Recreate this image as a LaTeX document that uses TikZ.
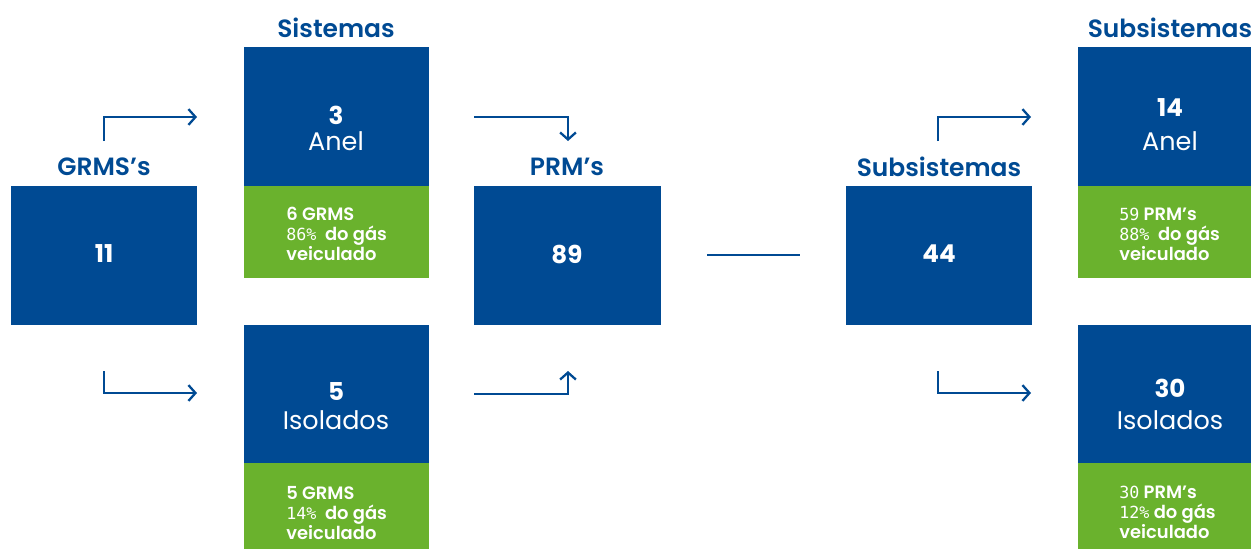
\documentclass[tikz,border=0pt]{standalone}
\usepackage{fontspec}
\setmainfont{Poppins}
\newfontfamily\semib{Poppins SemiBold}
\newfontfamily\boldf{Poppins Bold}
\newfontfamily\monof{DejaVu Sans Mono}
\usetikzlibrary{arrows.meta}
\definecolor{cblue}{RGB}{0,74,147}
\definecolor{cgreen}{RGB}{106,178,45}
\newcommand{\mono}[1]{{\monof\fontsize{9.5}{12}\selectfont #1}}
\tikzset{
  x=0.02cm, y=-0.02cm,
  bluebox/.style={fill=cblue, draw=none},
  greenbox/.style={fill=cgreen, draw=none},
  title/.style={text=cblue, font=\semib\fontsize{14.2}{15}\selectfont},
  bignum/.style={text=white, font=\boldf\fontsize{14}{15}\selectfont},
  word/.style={text=white, font=\fontsize{14.5}{15}\selectfont},
  small/.style={text=white, align=left, anchor=west, inner sep=0pt, font=\semib\fontsize{10.2}{11.3}\selectfont},
  conn/.style={draw=cblue, line width=1.3pt, -{Straight Barb[length=4pt,width=9pt,line width=1.3pt]}},
  plain/.style={draw=cblue, line width=1.3pt}
}
\begin{document}
\begin{tikzpicture}
\useasboundingbox (0,0) rectangle (1251,548);
% GRMS
\path[bluebox] (11,186) rectangle (197,325);
\node[title] (tGRMS) at (104,167) {GRMS’s};
\node[bignum] (nGRMS) at (104,254) {11};
% Sistemas top
\path[bluebox] (244,47) rectangle (429,186);
\path[greenbox] (244,186) rectangle (429,278);
\node[title] (tSist) at (336,28) {Sistemas};
\node[bignum] (n3) at (336,115) {3};
\node[word] (wAnel1) at (336,141) {Anel};
\node[small] (g1) at (286,234) {6 GRMS\\\mono{86\%}\ \ do gás\\veiculado};
% Sistemas bottom
\path[bluebox] (244,325) rectangle (429,463);
\path[greenbox] (244,463) rectangle (429,560);
\node[bignum] (n5) at (336,392) {5};
\node[word] (wIso1) at (336,420) {Isolados};
\node[small] (g2) at (286,513) {5 GRMS\\\mono{14\%}\ \ do gás\\veiculado};
% PRM
\path[bluebox] (474,186) rectangle (661,325);
\node[title] (tPRM) at (567,167) {PRM’s};
\node[bignum] (n89) at (567,254) {89};
% Subsistemas
\path[bluebox] (846,186) rectangle (1032,325);
\node[title] (tSub) at (939,167) {Subsistemas};
\node[bignum] (n44) at (939,254) {44};
% right top
\path[bluebox] (1078,47) rectangle (1270,186);
\path[greenbox] (1078,186) rectangle (1270,278);
\node[title] (tSub2) at (1170,28) {Subsistemas};
\node[bignum] (n14) at (1170,108) {14};
\node[word] (wAnel2) at (1170,141) {Anel};
\node[small] (g3) at (1119,234) {\mono{59}\ PRM’s\\\mono{88\%}\ \ do gás\\veiculado};
% right bottom
\path[bluebox] (1078,325) rectangle (1270,463);
\path[greenbox] (1078,463) rectangle (1270,560);
\node[bignum] (n30) at (1170,388) {30};
\node[word] (wIso2) at (1170,420) {Isolados};
\node[small] (g4) at (1119,512) {\mono{30}\ PRM’s\\\mono{12\%}\ do gás\\veiculado};
% connectors
\coordinate (a1s) at (104,141); \coordinate (a1e) at (197,117);
\draw[conn] (a1s) |- (a1e);
\coordinate (a2s) at (104,371); \coordinate (a2e) at (197,393);
\draw[conn] (a2s) |- (a2e);
\coordinate (a3s) at (474,117); \coordinate (a3e) at (568,141);
\draw[conn] (a3s) -| (a3e);
\coordinate (a4s) at (474,394); \coordinate (a4e) at (568,371);
\draw[conn] (a4s) -| (a4e);
\coordinate (a5s) at (938,141); \coordinate (a5e) at (1031,117);
\draw[conn] (a5s) |- (a5e);
\coordinate (a6s) at (938,371); \coordinate (a6e) at (1031,393);
\draw[conn] (a6s) |- (a6e);
\coordinate (ls) at (707,255); \coordinate (le) at (800,255);
\draw[plain] (ls) -- (le);
\end{tikzpicture}
\end{document}
